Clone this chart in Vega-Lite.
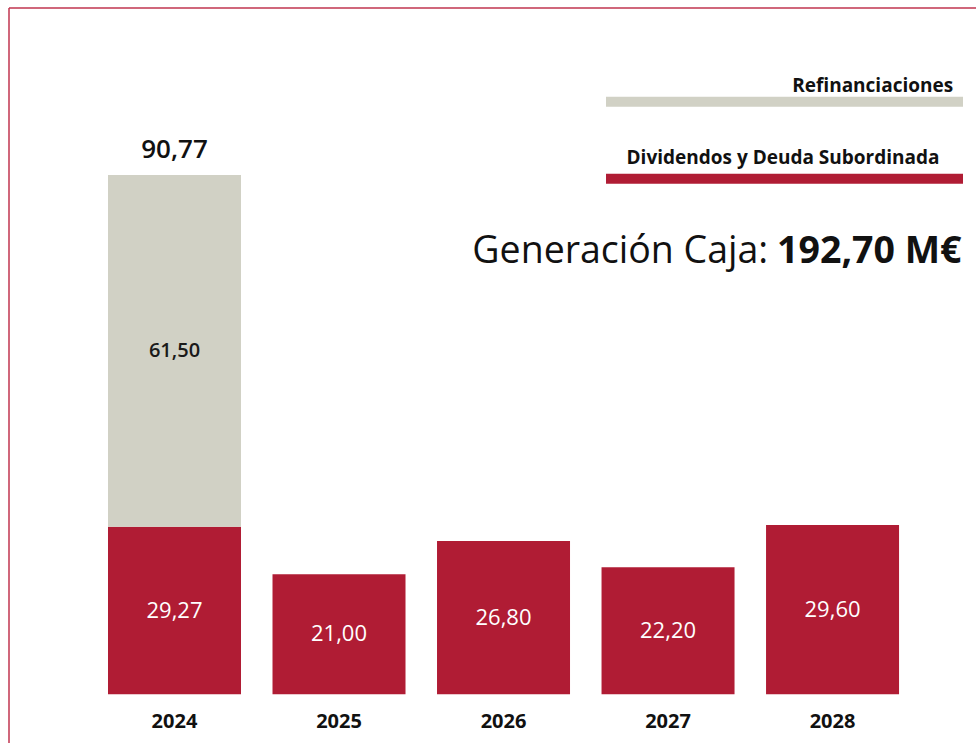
{
  "$schema": "https://vega.github.io/schema/vega-lite/v6.json",
  "width": 967,
  "height": 735,
  "padding": {"left": 9, "top": 8, "right": 0, "bottom": 0},
  "autosize": {"type": "none"},
  "background": "white",
  "config": {
    "view": {"stroke": null},
    "font": "Open Sans",
    "locale": {"number": {"decimal": ",", "thousands": ".", "grouping": [3], "currency": ["", " €"]}}
  },
  "datasets": {
    "bars": [
      {"year": 2024, "series": "Dividendos y Deuda Subordinada", "value": 29.27},
      {"year": 2024, "series": "Refinanciaciones", "value": 61.50},
      {"year": 2025, "series": "Dividendos y Deuda Subordinada", "value": 21.00},
      {"year": 2026, "series": "Dividendos y Deuda Subordinada", "value": 26.80},
      {"year": 2027, "series": "Dividendos y Deuda Subordinada", "value": 22.20},
      {"year": 2028, "series": "Dividendos y Deuda Subordinada", "value": 29.60}
    ],
    "totals": [{"year": 2024, "total": 90.77}]
  },
  "layer": [
    {
      "data": {"name": "bars"},
      "transform": [
        {"stack": "value", "groupby": ["year"], "sort": [{"field": "series", "order": "ascending"}], "as": ["v0", "v1"]},
        {"calculate": "(datum.v0 + datum.v1) / 2", "as": "mid"}
      ],
      "layer": [
        {
          "mark": {"type": "bar", "size": 133, "orient": "vertical"},
          "encoding": {
            "x": {"field": "year", "type": "quantitative", "scale": {"domain": [2022.994, 2028.872], "zero": false, "nice": false, "padding": 0}, "axis": null},
            "y": {"field": "v0", "type": "quantitative", "scale": {"domain": [-8.51, 119.96], "zero": false, "nice": false, "padding": 0}, "axis": null},
            "y2": {"field": "v1"},
            "color": {
              "field": "series",
              "type": "nominal",
              "scale": {"domain": ["Dividendos y Deuda Subordinada", "Refinanciaciones"], "range": ["#b01c34", "#d1d1c5"]},
              "legend": null
            }
          }
        },
        {
          "transform": [{"filter": "datum.series === 'Dividendos y Deuda Subordinada'"}],
          "mark": {"type": "text", "fontSize": 22, "baseline": "middle", "align": "center", "color": "#ffffff"},
          "encoding": {
            "x": {"field": "year", "type": "quantitative"},
            "y": {"field": "mid", "type": "quantitative"},
            "text": {"field": "value", "type": "quantitative", "format": ".2f"}
          }
        },
        {
          "transform": [{"filter": "datum.series === 'Refinanciaciones'"}],
          "mark": {"type": "text", "fontSize": 20, "fontWeight": 600, "baseline": "middle", "align": "center", "color": "#1a1a1a"},
          "encoding": {
            "x": {"field": "year", "type": "quantitative"},
            "y": {"field": "mid", "type": "quantitative"},
            "text": {"field": "value", "type": "quantitative", "format": ".2f"}
          }
        },
        {
          "transform": [{"filter": "datum.series === 'Dividendos y Deuda Subordinada'"}],
          "mark": {"type": "text", "fontSize": 20, "fontWeight": "bold", "baseline": "alphabetic", "align": "center", "dy": 34, "color": "#111111"},
          "encoding": {
            "x": {"field": "year", "type": "quantitative"},
            "y": {"datum": 0, "type": "quantitative"},
            "text": {"field": "year", "type": "nominal"}
          }
        }
      ]
    },
    {
      "data": {"name": "totals"},
      "mark": {"type": "text", "fontSize": 26, "fontWeight": 600, "baseline": "alphabetic", "align": "center", "dy": -17, "color": "#111111"},
      "encoding": {
        "x": {"field": "year", "type": "quantitative"},
        "y": {"field": "total", "type": "quantitative"},
        "text": {"field": "total", "type": "quantitative", "format": ".2f"}
      }
    },
    {
      "data": {"values": [{}]},
      "layer": [
        {
          "mark": {"type": "rule", "color": "#c0344f", "strokeWidth": 1.5},
          "encoding": {"x": {"datum": 2022.994, "type": "quantitative"}}
        },
        {
          "mark": {"type": "rule", "color": "#c0344f", "strokeWidth": 1.5},
          "encoding": {"y": {"datum": 119.96, "type": "quantitative"}}
        },
        {
          "mark": {"type": "rule", "color": "#d1d1c5", "strokeWidth": 10, "strokeCap": "butt"},
          "encoding": {
            "x": {"datum": 2026.623, "type": "quantitative"},
            "x2": {"datum": 2028.793},
            "y": {"datum": 103.58, "type": "quantitative"}
          }
        },
        {
          "mark": {"type": "rule", "color": "#b01c34", "strokeWidth": 10, "strokeCap": "butt"},
          "encoding": {
            "x": {"datum": 2026.623, "type": "quantitative"},
            "x2": {"datum": 2028.793},
            "y": {"datum": 90.11, "type": "quantitative"}
          }
        },
        {
          "mark": {"type": "text", "text": "Refinanciaciones", "fontSize": 19, "fontWeight": "bold", "align": "right", "baseline": "alphabetic", "color": "#111111"},
          "encoding": {
            "x": {"datum": 2028.733, "type": "quantitative"},
            "y": {"datum": 105.33, "type": "quantitative"}
          }
        },
        {
          "mark": {"type": "text", "text": "Dividendos y Deuda Subordinada", "fontSize": 19, "fontWeight": "bold", "align": "center", "baseline": "alphabetic", "color": "#111111"},
          "encoding": {
            "x": {"datum": 2027.699, "type": "quantitative"},
            "y": {"datum": 92.69, "type": "quantitative"}
          }
        },
        {
          "mark": {"type": "text", "text": "Generación Caja:", "fontSize": 37.5, "align": "right", "baseline": "alphabetic", "color": "#111111"},
          "encoding": {
            "x": {"datum": 2027.609, "type": "quantitative"},
            "y": {"datum": 75.39, "type": "quantitative"}
          }
        },
        {
          "mark": {"type": "text", "text": "192,70 M€", "fontSize": 37.5, "fontWeight": "bold", "align": "left", "baseline": "alphabetic", "color": "#111111"},
          "encoding": {
            "x": {"datum": 2027.663, "type": "quantitative"},
            "y": {"datum": 75.39, "type": "quantitative"}
          }
        }
      ]
    }
  ]
}
